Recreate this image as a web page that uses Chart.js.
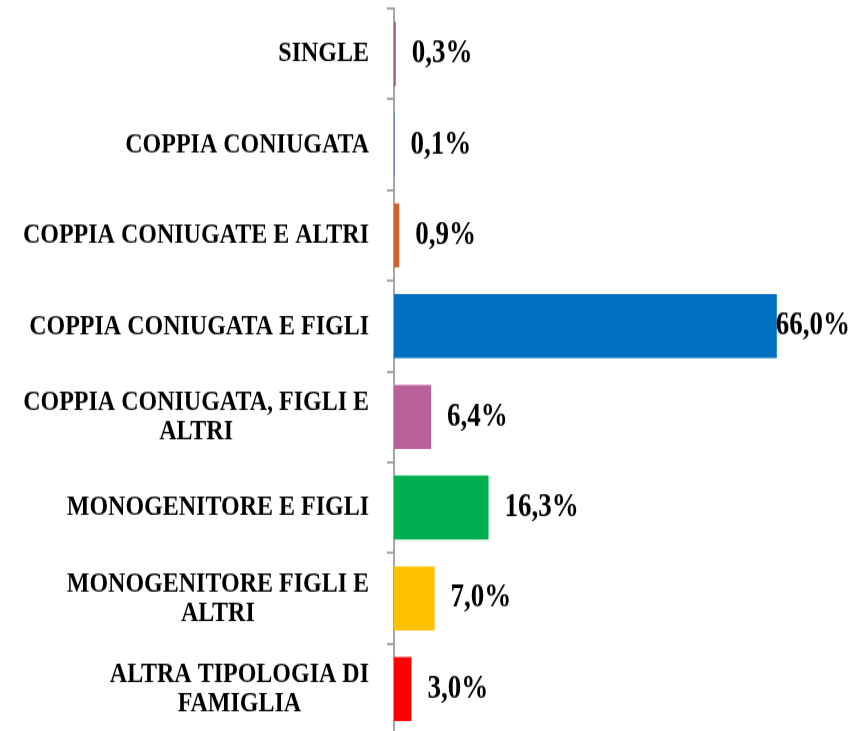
<!DOCTYPE html>
<html>
<head>
<meta charset="utf-8">
<script src="https://cdn.jsdelivr.net/npm/chart.js@4"></script>
<style>
  html { overflow: hidden; }
  body { margin: 0; padding: 0; background: #fff; }
  #outer { width: 859px; height: 731px; overflow: hidden; position: relative; }
  #wrap { width: 859px; height: 602px; transform: scaleY(1.22); transform-origin: 0 0; }
</style>
</head>
<body>
<div id="outer"><div id="wrap"><canvas id="famChart" width="859" height="602"></canvas></div></div>
<script>
const categories = [
  ['SINGLE'],
  ['COPPIA CONIUGATA'],
  ['COPPIA CONIUGATE E ALTRI'],
  ['COPPIA CONIUGATA E FIGLI'],
  ['COPPIA CONIUGATA, FIGLI E', 'ALTRI'],
  ['MONOGENITORE E FIGLI'],
  ['MONOGENITORE FIGLI E', 'ALTRI'],
  ['ALTRA TIPOLOGIA DI', 'FAMIGLIA']
];
const values = [0.3, 0.1, 0.9, 66.0, 6.4, 16.3, 7.0, 3.0];
const barColors = ['#9B5B8A', '#4F81BD', '#D2622E', '#0070C0', '#B9629A', '#00B050', '#FFC000', '#FF0000'];

const labelFont = "bold 24px 'Liberation Serif', 'Times New Roman', serif";
const valueFont = "bold 27px 'Liberation Serif', 'Times New Roman', serif";

const textPlugin = {
  id: 'textPlugin',
  afterDraw(chart) {
    const ctx = chart.ctx;
    const yScale = chart.scales.y;
    const meta = chart.getDatasetMeta(0);
    ctx.save();
    ctx.fillStyle = '#000';
    ctx.textBaseline = 'middle';

    // category labels: block right-aligned, lines centred
    ctx.font = labelFont;
    ctx.textAlign = 'center';
    const lineH = 24;
    categories.forEach(function (lines, i) {
      const y = yScale.getPixelForTick(i);
      let maxW = 0;
      lines.forEach(function (l) { maxW = Math.max(maxW, ctx.measureText(l).width); });
      const cx = 369 - maxW / 2;
      const y0 = y - (lines.length - 1) * lineH / 2;
      lines.forEach(function (l, k) { ctx.fillText(l, cx, y0 + k * lineH); });
    });

    // value labels
    ctx.font = valueFont;
    ctx.textAlign = 'left';
    meta.data.forEach(function (bar, i) {
      const txt = values[i].toFixed(1).replace('.', ',') + '%';
      const w = ctx.measureText(txt).width;
      let x = bar.x + 16;
      if (x + w > chart.width - 9) x = chart.width - 9 - w;
      ctx.fillText(txt, x, bar.y);
    });
    ctx.restore();
  }
};

const ctx = document.getElementById('famChart');
new Chart(ctx, {
  type: 'bar',
  data: {
    labels: categories,
    datasets: [{
      data: values,
      backgroundColor: barColors,
      barPercentage: 0.705,
      categoryPercentage: 1.0
    }]
  },
  options: {
    indexAxis: 'y',
    responsive: false,
    animation: false,
    layout: { padding: { top: 7, right: 59, bottom: 0, left: 0 } },
    plugins: { legend: { display: false }, tooltip: { enabled: false } },
    scales: {
      x: { display: false, min: 0, max: 70 },
      y: {
        grid: { offset: true, drawOnChartArea: false, drawTicks: true, tickLength: 7, color: '#A6A6A6', lineWidth: 2 },
        border: { display: true, color: '#A6A6A6', width: 2 },
        ticks: { display: false },
        afterFit: function (scale) { scale.width = 394; }
      }
    }
  },
  plugins: [textPlugin]
});
</script>
</body>
</html>
